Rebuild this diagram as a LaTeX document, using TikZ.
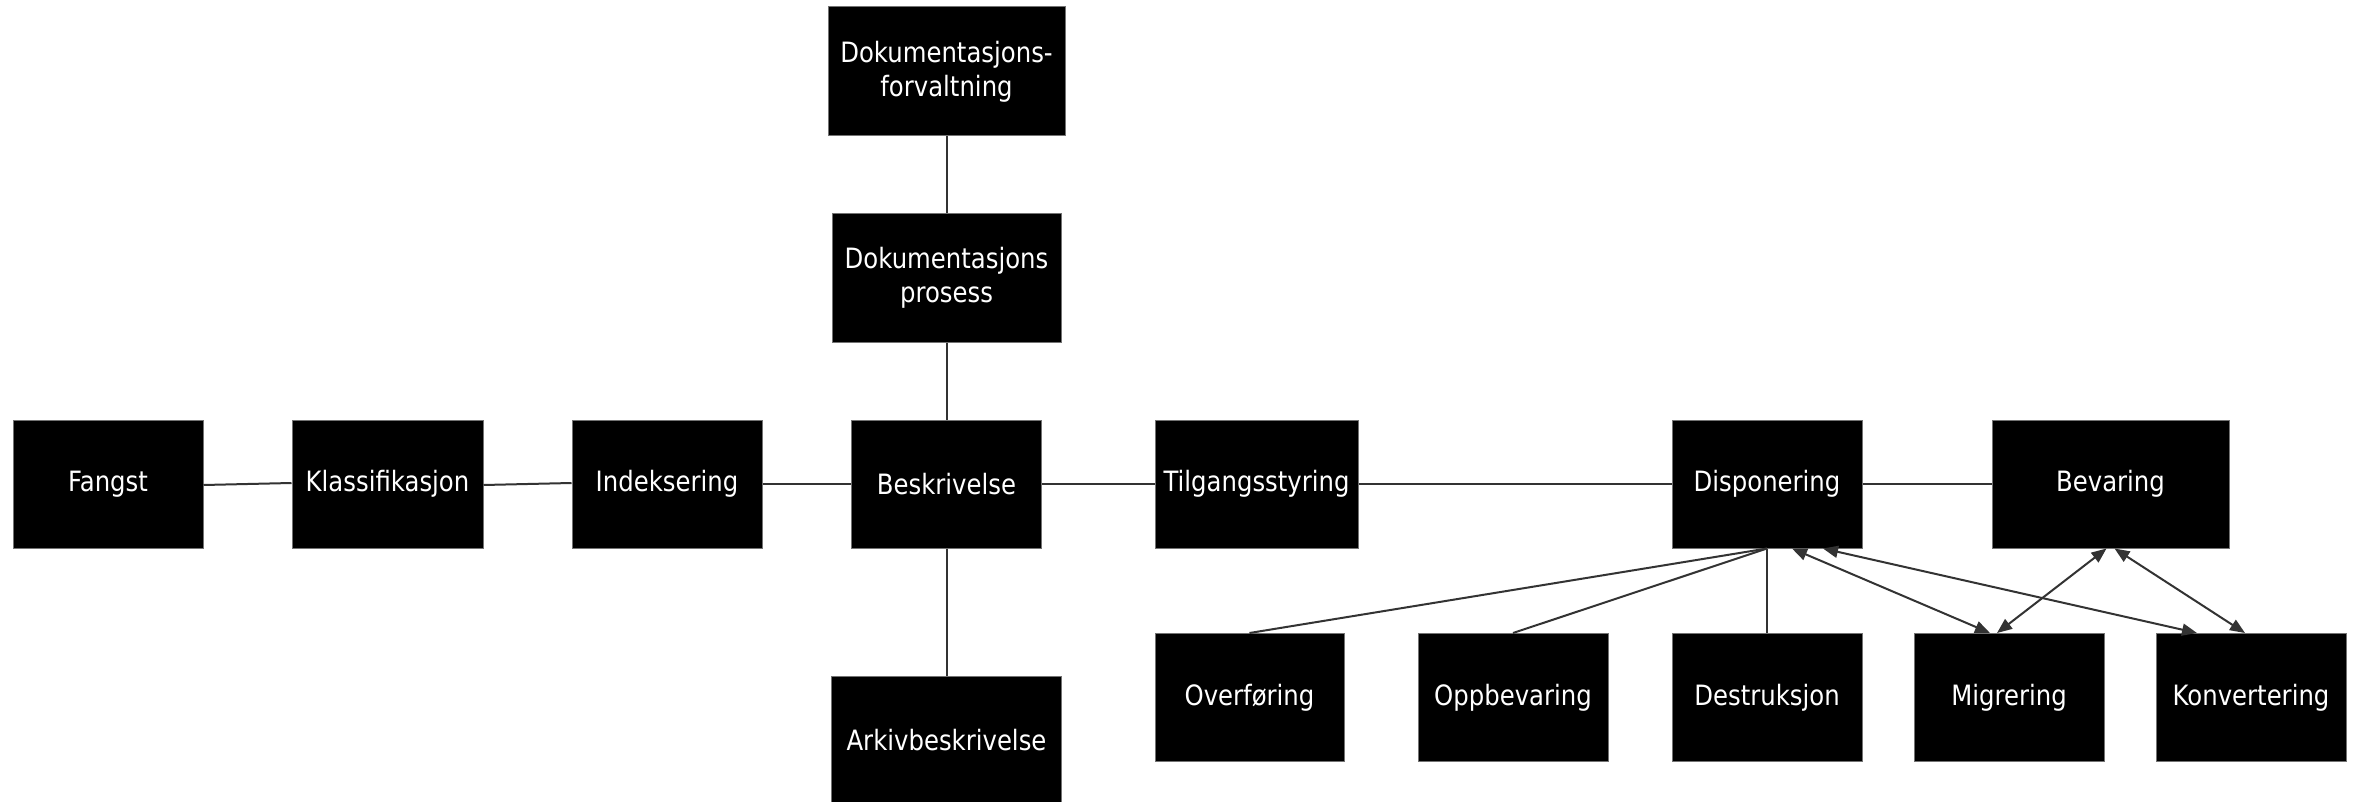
\documentclass[tikz,border=0pt]{standalone}
\usepackage{fontspec}
\setmainfont{DejaVu Sans}[FakeStretch=0.87]
\usetikzlibrary{arrows.meta}
\begin{document}
\begin{tikzpicture}[x=1pt,y=-1pt,
  box/.style={fill=black, draw=black!55, line width=1pt, text=white,
    inner sep=0pt, align=center, minimum height=128pt,
    font=\fontsize{28}{34}\selectfont},
  link/.style={draw=black!80, line width=2pt},
  tip/.tip={Triangle[length=15pt,width=12pt]},
  both/.style={link, tip-tip}]
\useasboundingbox (0,0) rectangle (2358,802);

% vertical chain
\node[box, minimum width=237pt, minimum height=129pt] (dokf) at (946.5,71.5) {Dokumentasjons-\\forvaltning};
\node[box, minimum width=229pt] (dokp) at (946.5,278) {Dokumentasjons\\prosess};
\node[box, minimum width=230pt] (ark) at (946.5,740) {Arkivbeskrivelse};

% main row
\node[box, minimum width=190pt] (fangst) at (108,484) {Fangst};
\node[box, minimum width=191pt] (klass) at (387.5,484) {Klassifikasjon};
\node[box, minimum width=190pt] (indeks) at (667,484) {Indeksering};
\node[box, minimum width=190pt] (beskr) at (946.5,484) {Beskrivelse};
\node[box, minimum width=203pt] (tilg) at (1256.5,484) {Tilgangsstyring};
\node[box, minimum width=190pt] (disp) at (1767,484) {Disponering};
\node[box, minimum width=237pt] (bev) at (2110.5,484) {Bevaring};

% bottom row
\node[box, minimum width=189pt] (overf) at (1249.5,697.5) {Overføring};
\node[box, minimum width=190pt] (oppb) at (1513,697.5) {Oppbevaring};
\node[box, minimum width=190pt] (destr) at (1767,697.5) {Destruksjon};
\node[box, minimum width=190pt] (migr) at (2009,697.5) {Migrering};
\node[box, minimum width=190pt] (konv) at (2251,697.5) {Konvertering};

% plain connectors
\draw[link] (dokf.south) -- (dokp.north);
\draw[link] (dokp.south) -- (beskr.north);
\draw[link] (beskr.south) -- (ark.north);
\draw[link] ([yshift=-1pt]fangst.east) -- ([yshift=1pt]klass.west);
\draw[link] ([yshift=-1pt]klass.east) -- ([yshift=1pt]indeks.west);
\draw[link] (indeks.east) -- (beskr.west);
\draw[link] (beskr.east) -- (tilg.west);
\draw[link] (tilg.east) -- (disp.west);
\draw[link] (disp.east) -- (bev.west);
\draw[link] (disp.south) -- (overf.north);
\draw[link] (disp.south) -- (oppb.north);
\draw[link] (disp.south) -- (destr.north);

% two-way connectors
\draw[both] ([xshift=25pt]disp.south) -- ([xshift=-19pt]migr.north);
\draw[both] ([xshift=56pt]disp.south) -- ([xshift=-54pt]konv.north);
\draw[both] ([xshift=-4pt]bev.south) -- ([xshift=-12pt]migr.north);
\draw[both] ([xshift=4pt]bev.south) -- ([xshift=-6pt]konv.north);
\end{tikzpicture}
\end{document}
